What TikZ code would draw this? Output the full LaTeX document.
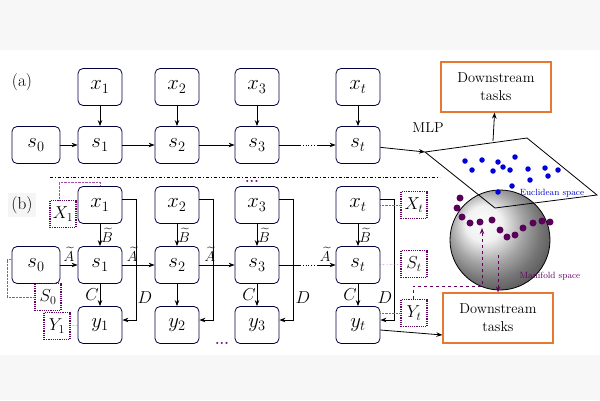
\documentclass[tikz,border=0pt]{standalone}
\usepackage{amsmath}
\usetikzlibrary{arrows.meta}
\definecolor{dsor}{RGB}{230,120,50}
\begin{document}
\begin{tikzpicture}[x=1pt,y=-1pt,
 box/.style={draw=black!75!blue,thick,rounded corners=5pt,minimum width=44pt,minimum height=37pt,font=\huge,inner sep=0pt},
 ds/.style={draw=dsor,line width=1.2pt,minimum width=110pt,minimum height=50pt,align=center,font=\Large,inner sep=0pt},
 pb/.style={draw=violet!80!black,densely dotted,very thick,minimum width=26pt,minimum height=27pt,inner sep=0pt,font=\LARGE},
 pl/.style={violet!70,densely dotted,thin},
 ar/.style={-{Stealth[length=6pt]},thick},
 pd/.style={violet!80!black,dashed,thick,-{Stealth[length=6pt]}},
 bd/.style={circle,fill=blue!85!black,inner sep=0pt,minimum size=5.5pt},
 vd/.style={circle,fill=violet!70!black,inner sep=0pt,minimum size=7pt},
 ml/.style={font=\LARGE,inner sep=1pt},
 tl/.style={font=\Large,inner sep=0pt},
 lb/.style={font=\LARGE}]
\useasboundingbox (0,0) rectangle (600,400);
\fill[gray!6] (0,0) rectangle (600,50);
\fill[gray!6] (0,355) rectangle (600,400);
% (a)
\node[lb] (la) at (22,82) {(a)};
\foreach \n/\x/\t in {1/100/1,2/177/2,3/257/3,t/358/t}{
 \node[box] (ax\n) at (\x,87) {$x_{\t}$};
 \node[box] (as\n) at (\x,145) {$s_{\t}$};
 \draw[ar] (ax\n) -- (as\n);}
\node[box,minimum width=48pt] (as0) at (36,145) {$s_0$};
\draw[ar] (as0) -- (as1); \draw[ar] (as1) -- (as2); \draw[ar] (as2) -- (as3);
\draw[thick] (as3) -- (300,145);
\draw[thick,dotted] (300,145) -- (318,145);
\draw[ar] (318,145) -- (ast);
\node[ds] (dsa) at (496,87) {Downstream\\tasks};
% sphere & plane
\shade[ball color=gray!15,draw=black,thick] (500,240) circle (50);
\coordinate (p1) at (425,152); \coordinate (p2) at (527,138);
\coordinate (p3) at (597,195); \coordinate (p4) at (495,208);
\draw[thick] (p1) -- (p2) -- (p3) -- (p4) -- cycle;
\draw[ar] (ast) -- (p1);
\node[font=\Large] (mlp) at (428,128) {MLP};
\coordinate (pt) at (493,141);
\draw[ar] (pt) -- (dsa);
\foreach \x/\y in {465/161,482/160,498/162,515/157,503/167,472/170,493/171,510/170,528/169,545/168,530/180,548/176,558/170,512/186,498/192}
 \node[bd] at (\x,\y) {};
\node[font=\small,text=blue!80!black] (eu) at (552,193) {Euclidean space};
\foreach \x/\y in {460/198,457/208,462/217,470/223,480/222,492/220,500/230,507/237,515/235,523/228,533/223,542/221,550/222}
 \node[vd] at (\x,\y) {};
% dash-dot line
\draw[thick,dash dot] (50,177) -- (440,177);
% (b)
\node[lb,fill=gray!8] (lbb) at (22,205) {(b)};
\foreach \n/\x/\t in {1/100/1,2/177/2,3/257/3,t/358/t}{
 \node[box] (bx\n) at (\x,205) {$x_{\t}$};
 \node[box] (bs\n) at (\x,265) {$s_{\t}$};
 \node[box] (by\n) at (\x,325) {$y_{\t}$};
 \draw[ar] (bx\n) -- node[pos=0.5,right=1pt,tl]{$\widetilde{B}$} (bs\n);
 \draw[ar] (bx\n.east) ++(0,-6) -- ++(14,0) |- ([yshift=5pt]by\n.east);}
\draw[ar] (bs1) -- node[left=0pt,ml]{$C$} (by1);
\draw[ar] (bs2) -- (by2);
\draw[ar] (bs3) -- node[left=0pt,ml]{$C$} (by3);
\draw[ar] (bst) -- node[left=0pt,ml]{$C$} (byt);
\node[ml] (d1) at (145,298) {$D$};
\node[ml] (d3) at (303,298) {$D$};
\node[ml] (dt) at (385,298) {$D$};
\node[box,minimum width=48pt] (bs0) at (36,265) {$s_0$};
\draw[ar] (bs0) -- node[above=3pt,tl]{$\widetilde{A}$} (bs1);
\draw[ar] (bs1) -- node[above=3pt,pos=0.3,tl]{$\widetilde{A}$} (bs2);
\draw[ar] (bs2) -- node[above=3pt,pos=0.3,tl]{$\widetilde{A}$} (bs3);
\draw[thick] (bs3) -- (300,265);
\draw[thick,dotted] (300,265) -- (318,265);
\draw[ar] (318,265) -- node[above=3pt,pos=0.4,tl]{$\widetilde{A}$} (bst);
\node[ds] (dsb) at (498,318) {Downstream\\tasks};
\draw[ar] (byt.east) ++(0,5) -- (dsb.west |- 335,335);
% purple boxes
\node[pb] (X1) at (63,214) {$X_1$};
\node[pb] (S0) at (48,297) {$S_0$};
\node[pb] (Y1) at (57,326) {$Y_1$};
\node[pb] (Xt) at (414,205) {$X_t$};
\node[pb] (St) at (414,264) {$S_t$};
\node[pb] (Yt) at (414,313) {$Y_t$};
\draw[pl] (X1.north) ++(-4,0) |- (100,182) -- (100,186);
\draw[pl] (S0.west) -| (7,259) -- (bs0.west |- 0,259);
\draw[pl] (Y1) -- (by1);
\draw[pl] (Xt) -- (bxt);
\draw[pl] (St) -- (bst);
\draw[pl] (Yt.west) -- (byt.east |- Yt.west);
\draw[pd] (Yt.north) ++(-1,0) -- ++(0,-13) -| (482,228);
\draw[pd] (498,255) -- (dsb.north -| 498,0);
\node[font=\small,text=violet!80!black] (mf) at (550,276) {Manifold space};
\node[text=violet,font=\Large\bfseries] (dots1) at (252,181) {...};
\node[text=violet,font=\Large\bfseries] (dots2) at (222,343) {...};
\end{tikzpicture}
\end{document}
